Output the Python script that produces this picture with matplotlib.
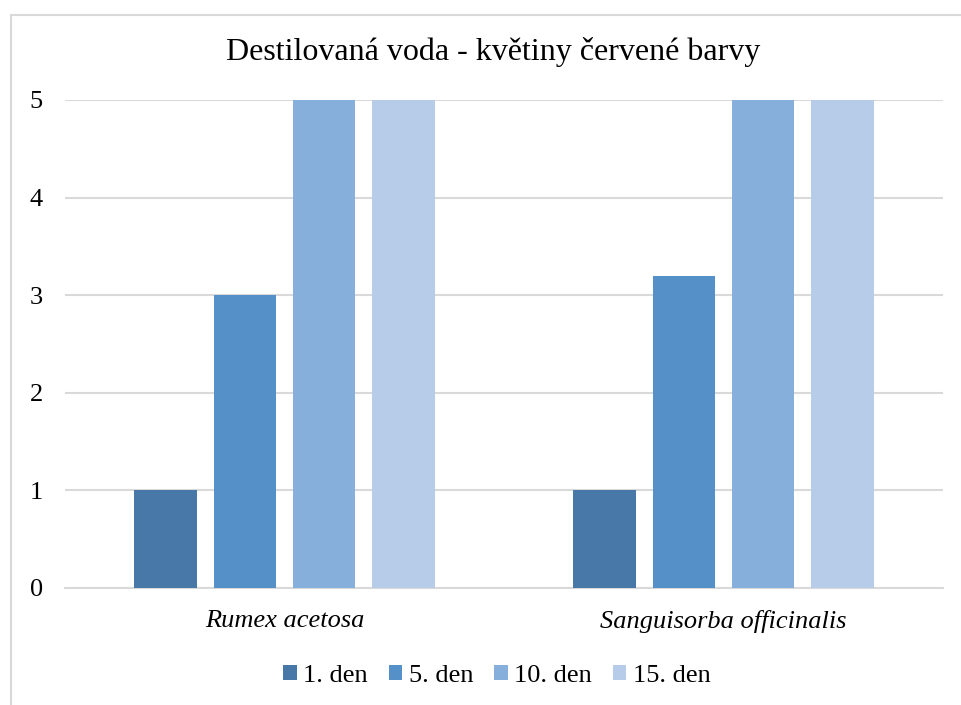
import matplotlib.pyplot as plt
import numpy as np
from matplotlib.patches import Rectangle

categories = ["Rumex acetosa", "Sanguisorba officinalis"]
series = ["1. den", "5. den", "10. den", "15. den"]
values = {
    "1. den": [1, 1],
    "5. den": [3, 3.2],
    "10. den": [5, 5],
    "15. den": [5, 5],
}
colors = ["#4878A8", "#5591C8", "#86AFDC", "#B7CCE8"]
yticks = [0, 1, 2, 3, 4, 5]

plt.rcParams["font.family"] = ["Liberation Serif", "DejaVu Serif"]

fig = plt.figure(figsize=(9.62, 7.05), dpi=100)
W, H = 962, 705
ax = fig.add_axes([65 / W, 1 - 588 / H, 878 / W, 488 / H])

x = np.arange(len(categories))
width = 0.1424
step = 0.181
for i, s in enumerate(series):
    ax.bar(x + (i - 1.5) * step, values[s], width, color=colors[i],
           label=s, zorder=3)

ax.set_xlim(-0.5, 1.5)
ax.set_ylim(0, 5)
ax.set_yticks(yticks)
ax.set_yticklabels([str(t) for t in yticks], fontsize=19)
ax.set_xticks(x)
ax.set_xticklabels(categories, fontsize=19, style="italic")
ax.tick_params(axis="both", length=0)
ax.tick_params(axis="y", pad=16)
ax.tick_params(axis="x", pad=16)
for sp in ["top", "right", "left"]:
    ax.spines[sp].set_visible(False)
ax.spines["bottom"].set_color("#D9D9D9")
ax.spines["bottom"].set_linewidth(1.5)
ax.yaxis.grid(True, color="#D9D9D9", lw=1.5, zorder=0)
ax.set_axisbelow(True)

fig.text(493 / W, 1 - 52 / H, "Destilovaná voda - květiny červené barvy",
         ha="center", va="center", fontsize=23)

leg = fig.legend(loc="center", bbox_to_anchor=(497 / W, 1 - 676 / H),
                 ncol=4, frameon=False, fontsize=19, handlelength=0.5,
                 handleheight=0.5, handletextpad=0.25, columnspacing=0.8)

fig.patches.append(Rectangle((11 / W, -0.01), 1.0, 1 - 15 / H + 0.01,
                             transform=fig.transFigure, fill=False,
                             edgecolor="#D9D9D9", lw=1.5))

fig.savefig("out.png", dpi=100)
